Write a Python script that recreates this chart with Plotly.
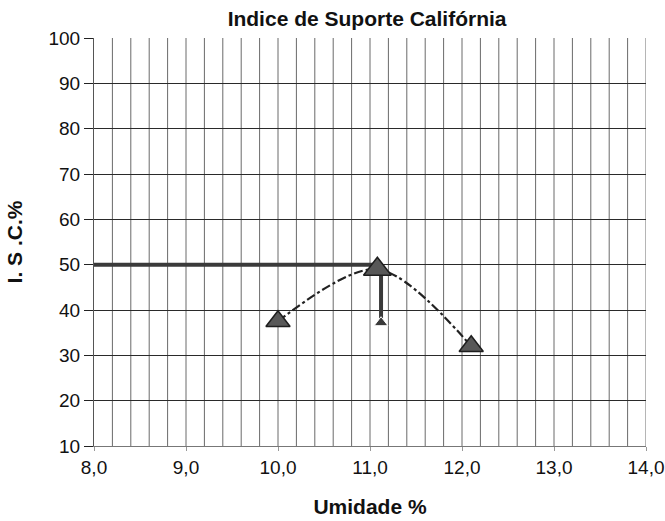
import plotly.graph_objects as go
import numpy as np

# ensaios CBR
umidade = [10.0, 11.08, 12.1]
isc = [37.5, 49.0, 32.0]

# linha do ISC de projeto e umidade otima
linha_h_x = [8.0, 11.1]
linha_h_y = [50.0, 50.0]
linha_v_x = [11.12, 11.12]
linha_v_y = [48.5, 37.2]

x_ticks = [8.0, 9.0, 10.0, 11.0, 12.0, 13.0, 14.0]
x_labels = ['8,0', '9,0', '10,0', '11,0', '12,0', '13,0', '14,0']

fonte = 'Liberation Sans, Arial, sans-serif'

fig = go.Figure()

fig.add_trace(go.Scatter(
    x=umidade, y=isc,
    mode='lines',
    line=dict(color='#222222', width=2.2, dash='dashdot', shape='spline', smoothing=0.9),
    showlegend=False,
))

fig.add_trace(go.Scatter(
    x=linha_h_x, y=linha_h_y,
    mode='lines',
    line=dict(color='#3a3a3a', width=4),
    showlegend=False,
))

fig.add_trace(go.Scatter(
    x=linha_v_x, y=linha_v_y,
    mode='lines+markers',
    line=dict(color='#3a3a3a', width=4),
    marker=dict(symbol='triangle-up', size=[0, 12], color='#3a3a3a', opacity=1),
    showlegend=False,
))

fig.add_trace(go.Scatter(
    x=umidade, y=isc,
    mode='markers',
    marker=dict(symbol='triangle-up', size=[21, 24, 21], color='#585858', opacity=1,
                line=dict(color='#1e1e1e', width=1.5)),
    showlegend=False,
))

# grade vertical a cada 0,2
for gx in np.arange(8.2, 14.01, 0.2):
    fig.add_vline(x=gx, line=dict(color='#6a6a6a', width=1), layer='below')

fig.update_layout(
    width=665, height=521,
    margin=dict(l=94, r=19, t=38, b=75),
    paper_bgcolor='white',
    plot_bgcolor='white',
    font=dict(family=fonte, size=19, color='#111111'),
    title=dict(text='<b>Indice de Suporte Califórnia</b>', x=0.552, xanchor='center',
               y=0.978, yanchor='top', font=dict(size=21)),
    xaxis=dict(
        range=[8.0, 14.0],
        tickvals=x_ticks, ticktext=x_labels,
        tickfont=dict(size=19),
        showgrid=False, zeroline=False, automargin=False,
        showline=True, linecolor='#777777', linewidth=1,
        ticks='outside', ticklen=4, tickcolor='#999999',
        title=dict(text='<b>Umidade %</b>', standoff=22, font=dict(size=21)),
    ),
    yaxis=dict(
        range=[10, 100],
        dtick=10,
        tickfont=dict(size=19),
        showgrid=True, gridcolor='#2a2a2a', gridwidth=1,
        zeroline=False, automargin=False,
        showline=True, linecolor='#555555', linewidth=1,
        ticks='outside', ticklen=9, tickcolor='#222222',
        title=dict(text='<b>I. S .C.%</b>', standoff=20, font=dict(size=21)),
    ),
)

fig.write_html('out.html', config={'displayModeBar': False},
               post_script="document.body.style.margin='0';")
